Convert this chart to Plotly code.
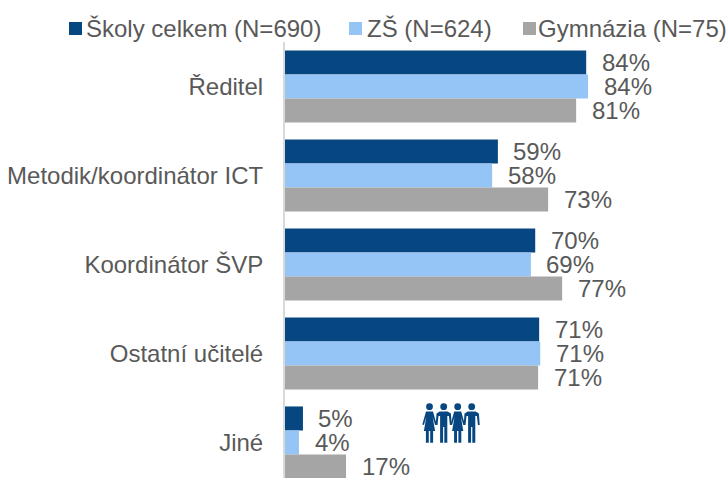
import plotly.graph_objects as go

categories = ["Ředitel", "Metodik/koordinátor ICT", "Koordinátor ŠVP", "Ostatní učitelé", "Jiné"]
series_names = ["Školy celkem (N=690)", "ZŠ (N=624)", "Gymnázia (N=75)"]
skoly = [83.9, 59.3, 69.7, 70.8, 5.0]
zs = [84.4, 57.7, 68.5, 71.1, 3.9]
gym = [81.1, 73.3, 77.2, 70.5, 17.0]
skoly_labels = ["84%", "59%", "70%", "71%", "5%"]
zs_labels = ["84%", "58%", "69%", "71%", "4%"]
gym_labels = ["81%", "73%", "77%", "71%", "17%"]
colors = ["#074781", "#95C5F7", "#A5A5A5"]

W, H = 728, 478
L, T = 285, 42
FONT = "Liberation Sans"
TXT = "#595959"
SIZE = 24


def px(x):
    return (x - L) / (W - L)


def py(y):
    return 1 - (y - T) / (H - T)


fig = go.Figure()
annotations = []
for name, vals, labs, col, yshift in zip(series_names, [skoly, zs, gym],
                                         [skoly_labels, zs_labels, gym_labels], colors, [24.5, 0.5, -23.5]):
    fig.add_bar(y=categories, x=vals, name=name, orientation="h", marker=dict(color=col, line_width=0))
    for c, v, t in zip(categories, vals, labs):
        annotations.append(dict(x=v, y=c, xref="x", yref="y", text=t, showarrow=False, xanchor="left",
                                xshift=13.5, yshift=yshift, font=dict(family=FONT, size=SIZE, color=TXT)))

# legend drawn at the reference's tight spacing
shapes = []
legend_pos = [(69, 86), (349, 367), (523, 538)]
for name, col, (sx, tx) in zip(series_names, colors, legend_pos):
    shapes.append(dict(type="rect", xref="paper", yref="paper", x0=px(sx), x1=px(sx + 13), y0=py(22), y1=py(35),
                       fillcolor=col, line_width=0))
    annotations.append(dict(xref="paper", yref="paper", x=px(tx), y=py(28), text=name, showarrow=False,
                            xanchor="left", yanchor="middle", xshift=-2,
                            font=dict(family=FONT, size=SIZE, color=TXT)))


def poly(points):
    return "M" + "L".join(f"{px(x):.5f},{py(y):.5f}" for x, y in points) + "Z"


ICON = "#074781"
heads = [429.5, 443.7, 457.7, 471.7]
for i, cx in enumerate(heads):
    shapes.append(dict(type="circle", xref="paper", yref="paper", x0=px(cx - 3.4), x1=px(cx + 3.4),
                       y0=py(403.3), y1=py(410.1), fillcolor=ICON, line_width=0))
    if i % 2 == 0:
        body = [(cx - 3.5, 411.5), (cx + 3.5, 411.5), (cx + 7.2, 424.5), (cx + 5.6, 425), (cx + 3.2, 417),
                (cx + 5.6, 431), (cx + 3.6, 431), (cx + 3.6, 442.7), (cx + 0.7, 442.7), (cx + 0.7, 431),
                (cx - 0.7, 431), (cx - 0.7, 442.7), (cx - 3.6, 442.7), (cx - 3.6, 431), (cx - 5.6, 431),
                (cx - 3.2, 417), (cx - 5.6, 425), (cx - 7.2, 424.5)]
    else:
        body = [(cx - 4, 411.5), (cx + 4, 411.5), (cx + 7.2, 413.5), (cx + 8, 425), (cx + 6.2, 425), (cx + 5.2, 416),
                (cx + 3.6, 416), (cx + 3.6, 442.7), (cx + 0.6, 442.7), (cx + 0.6, 427), (cx - 0.6, 427),
                (cx - 0.6, 442.7), (cx - 3.6, 442.7), (cx - 3.6, 416), (cx - 5.2, 416), (cx - 6.2, 425),
                (cx - 8, 425), (cx - 7.2, 413.5)]
    shapes.append(dict(type="path", xref="paper", yref="paper", path=poly(body), fillcolor=ICON, line_width=0))

fig.update_layout(
    width=W, height=H, barmode="group", bargap=0.19, bargroupgap=0, showlegend=False,
    margin=dict(l=L, r=0, t=T, b=0, autoexpand=False),
    paper_bgcolor="white", plot_bgcolor="white",
    font=dict(family=FONT, size=SIZE, color=TXT),
    shapes=shapes, annotations=annotations,
    xaxis=dict(range=[0, (W - L) / 3.59], visible=False),
    yaxis=dict(categoryorder="array", categoryarray=categories, range=[(H - T) / 89 - 0.5, -0.5],
               showline=True, linecolor="#D9D9D9", linewidth=2, showgrid=False, zeroline=False,
               ticks="outside", ticklen=15, tickcolor="rgba(0,0,0,0)", tickfont=dict(family=FONT, size=SIZE, color=TXT)),
)
fig.write_html("out.html", config={"displayModeBar": False},
               post_script="document.body.style.margin='0';document.body.style.overflow='hidden';")
